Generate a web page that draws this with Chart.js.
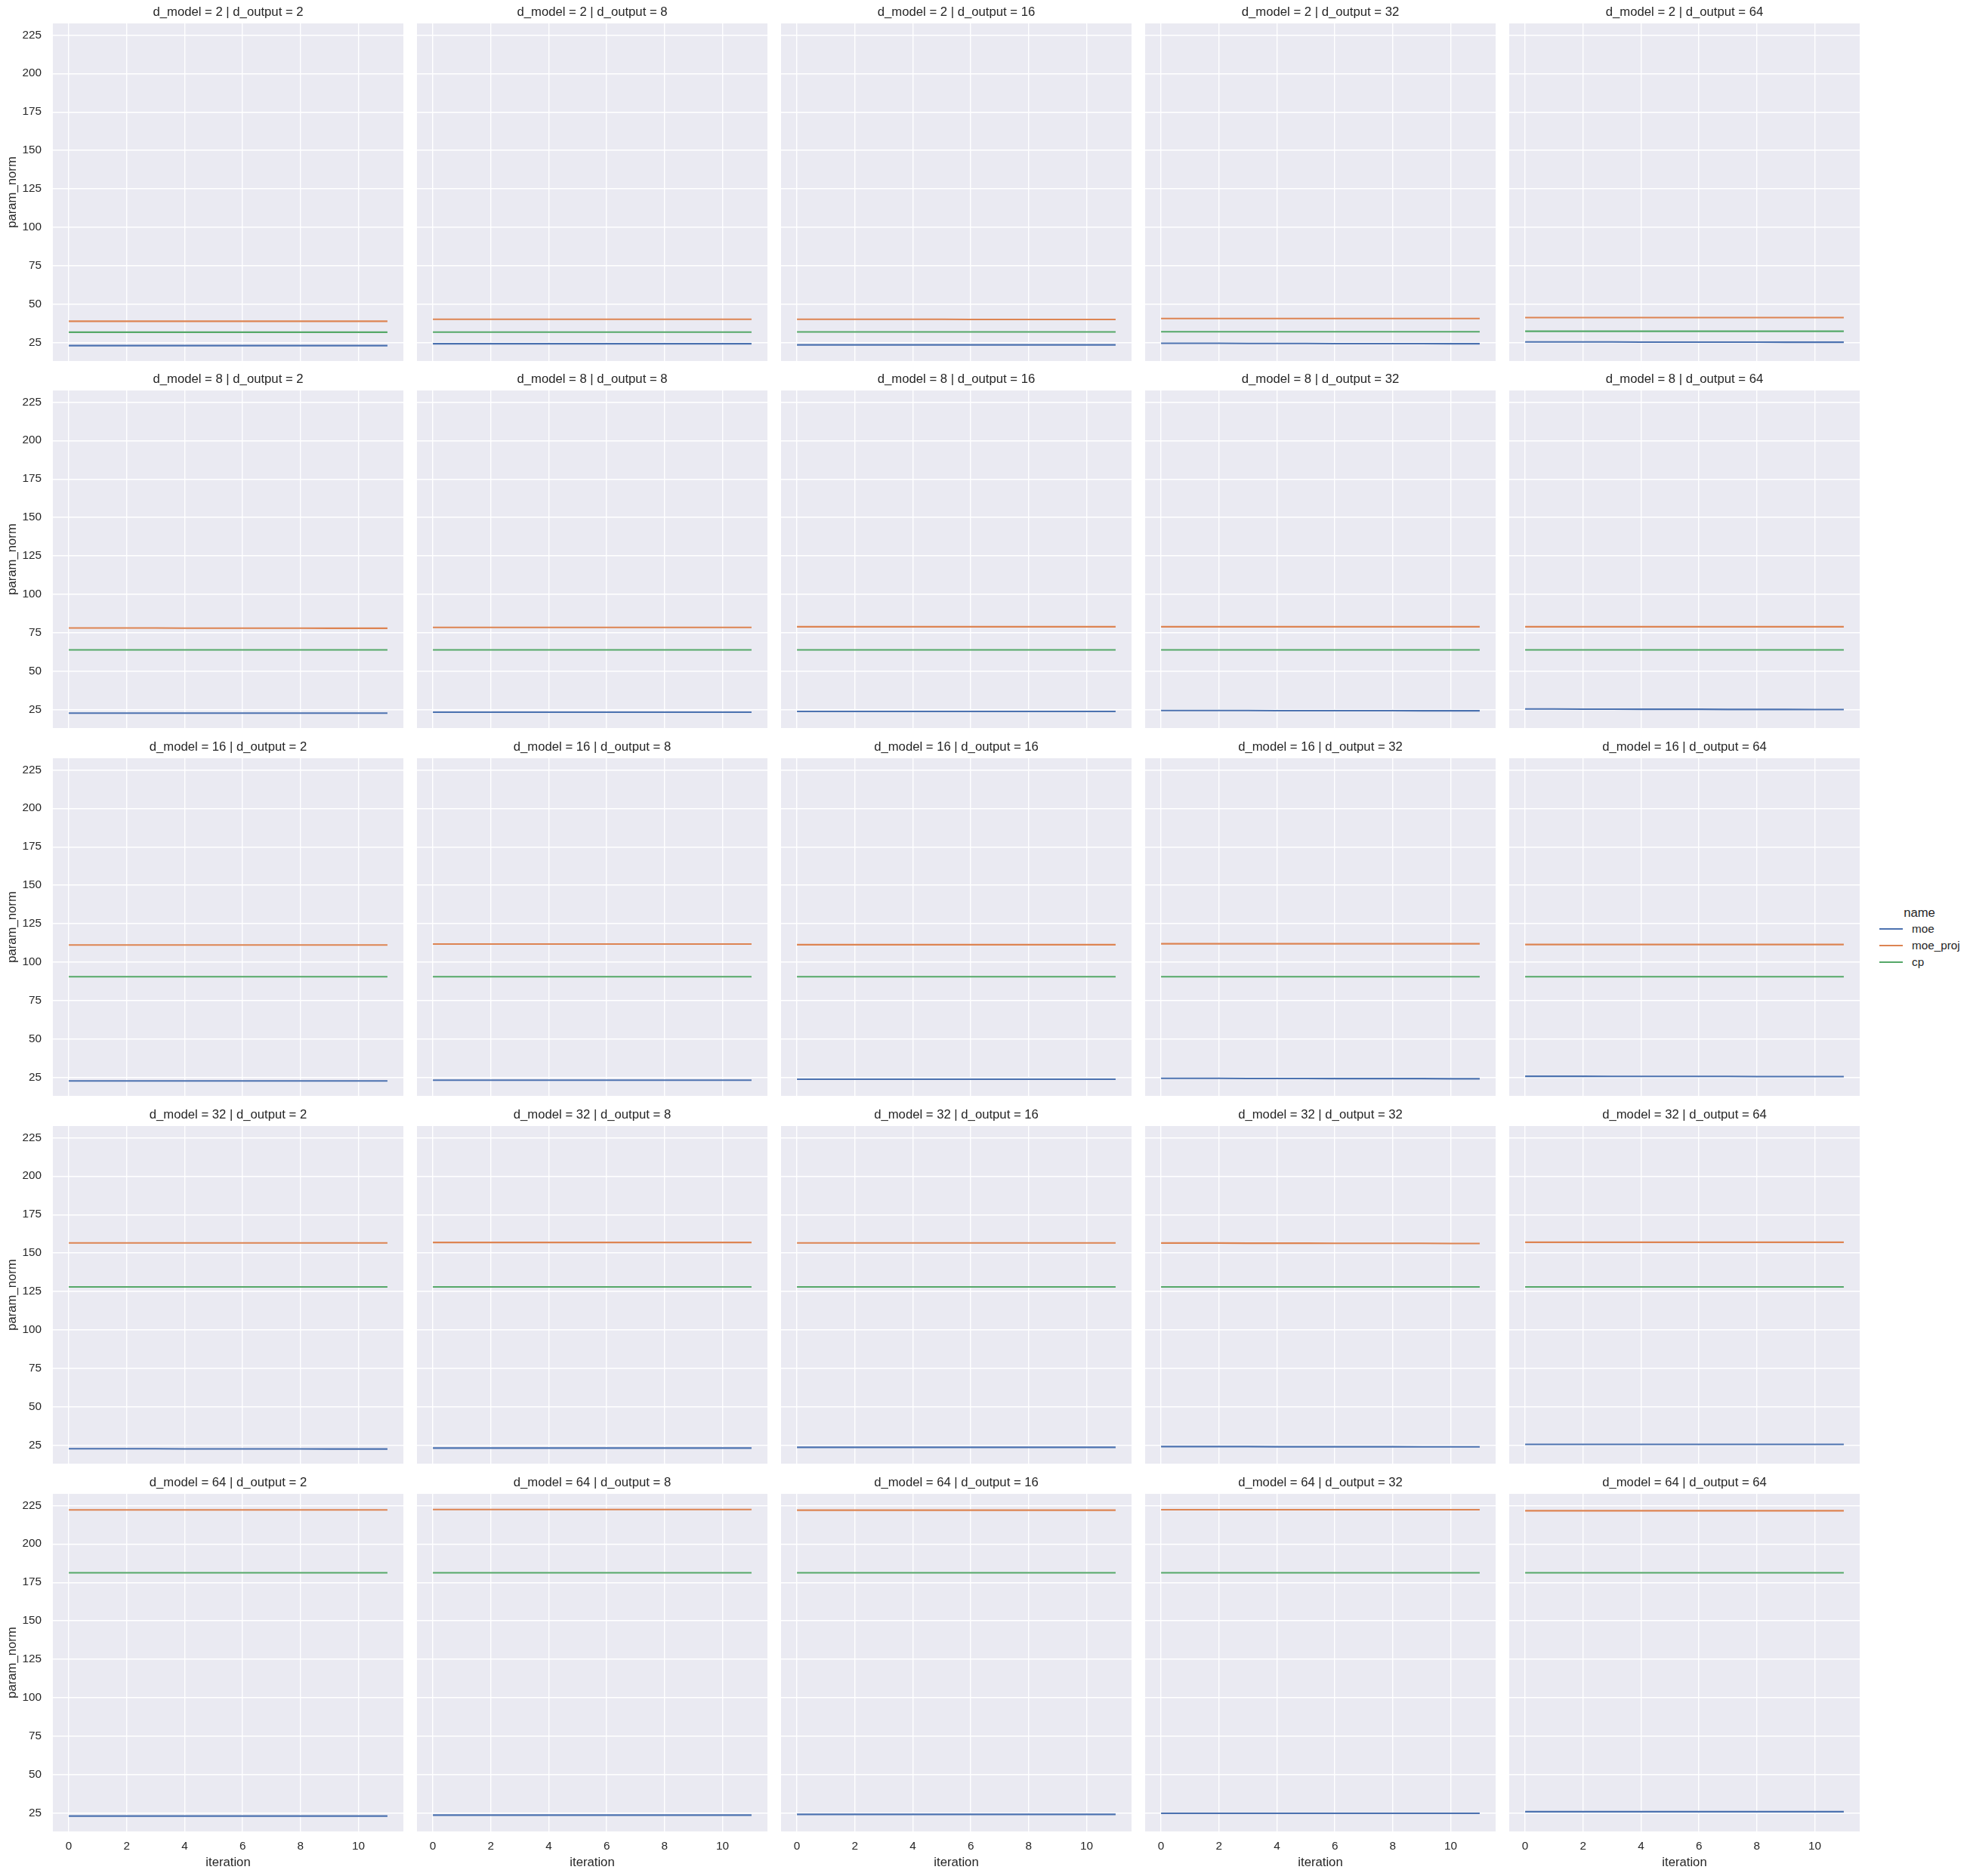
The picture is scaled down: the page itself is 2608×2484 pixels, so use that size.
<!DOCTYPE html>
<html>
<head>
<meta charset="utf-8">
<script src="https://cdn.jsdelivr.net/npm/chart.js@4.4.0/dist/chart.umd.min.js"></script>
<style>
  html, body { margin:0; padding:0; background:#ffffff; width:2608px; height:2484px; overflow:hidden; }
  .cell { position:absolute; }
  .cell canvas { display:block; }
  #legend { position:absolute; left:0; top:0; font-family:"Liberation Sans", Arial, sans-serif; color:#262626; }
  .lg-title { position:absolute; font-size:16.7px; line-height:20px; transform:translate(-50%,-50%); white-space:nowrap; }
  .lg-line { position:absolute; height:2.1px; }
  .lg-text { position:absolute; font-size:15.3px; line-height:18px; transform:translateY(-50%); white-space:nowrap; }
</style>
</head>
<body>
<div id="grid"></div>
<div id="legend"></div>
<script>
// ---------------- data ----------------
const iterations = [0,1,2,3,4,5,6,7,8,9,10,11];
const dModels  = [2, 8, 16, 32, 64];
const dOutputs = [2, 8, 16, 32, 64];
const xTickValues = [0, 2, 4, 6, 8, 10];
const yTickValues = [25, 50, 75, 100, 125, 150, 175, 200, 225];
const seriesNames  = ['moe', 'moe_proj', 'cp'];
const seriesColors = ['#4C72B0', '#DD8452', '#55A868'];

// moe  (rows: d_output = 2, 8, 16, 32, 64)
const moe_dm2 = [
  [23.2,23.2,23.2,23.2,23.2,23.2,23.2,23.2,23.2,23.2,23.2,23.2],
  [24.4,24.4,24.4,24.4,24.4,24.4,24.4,24.4,24.4,24.4,24.4,24.4],
  [23.7,23.7,23.7,23.7,23.7,23.7,23.7,23.7,23.7,23.7,23.7,23.7],
  [24.7,24.7,24.7,24.6,24.6,24.6,24.5,24.5,24.5,24.5,24.4,24.4],
  [25.6,25.6,25.6,25.6,25.5,25.5,25.5,25.5,25.5,25.4,25.4,25.4]
];
const moe_dm8 = [
  [22.9,22.9,22.9,22.9,22.9,22.9,22.9,22.9,22.9,22.9,22.9,22.9],
  [23.5,23.5,23.5,23.5,23.5,23.5,23.5,23.5,23.5,23.5,23.5,23.5],
  [24.0,24.0,24.0,24.0,24.0,24.0,24.0,24.0,24.0,24.0,24.0,24.0],
  [24.6,24.6,24.6,24.6,24.5,24.5,24.5,24.5,24.5,24.4,24.4,24.4],
  [25.6,25.6,25.5,25.5,25.4,25.4,25.4,25.3,25.3,25.3,25.2,25.2]
];
const moe_dm16 = [
  [22.9,22.9,22.9,22.9,22.9,22.9,22.9,22.9,22.9,22.9,22.9,22.9],
  [23.4,23.4,23.4,23.4,23.4,23.4,23.4,23.4,23.4,23.4,23.4,23.4],
  [24.0,24.0,24.0,24.0,24.0,24.0,24.0,24.0,24.0,24.0,24.0,24.0],
  [24.6,24.6,24.6,24.5,24.5,24.5,24.4,24.4,24.4,24.4,24.3,24.3],
  [25.9,25.9,25.9,25.8,25.8,25.8,25.8,25.8,25.7,25.7,25.7,25.7]
];
const moe_dm32 = [
  [22.9,22.9,22.9,22.9,22.8,22.8,22.8,22.8,22.8,22.7,22.7,22.7],
  [23.3,23.3,23.3,23.3,23.3,23.3,23.3,23.3,23.3,23.3,23.3,23.3],
  [23.8,23.8,23.8,23.8,23.8,23.8,23.8,23.8,23.8,23.8,23.8,23.8],
  [24.3,24.3,24.3,24.3,24.2,24.2,24.2,24.2,24.2,24.1,24.1,24.1],
  [25.7,25.7,25.7,25.7,25.7,25.7,25.7,25.7,25.7,25.7,25.7,25.7]
];
const moe_dm64 = [
  [23.2,23.2,23.2,23.2,23.2,23.2,23.2,23.2,23.2,23.2,23.2,23.2],
  [23.8,23.8,23.8,23.8,23.8,23.8,23.8,23.8,23.8,23.8,23.8,23.8],
  [24.3,24.3,24.3,24.3,24.3,24.3,24.3,24.3,24.3,24.3,24.3,24.3],
  [25.0,25.0,25.0,25.0,25.0,25.0,25.0,25.0,25.0,25.0,25.0,25.0],
  [26.0,26.0,26.0,26.0,26.0,26.0,26.0,26.0,26.0,26.0,26.0,26.0]
];

// moe_proj
const moeProj_dm2 = [
  [39.0,39.0,39.0,39.0,39.0,39.0,39.0,39.0,39.0,39.0,39.0,39.0],
  [40.3,40.3,40.3,40.3,40.3,40.3,40.3,40.3,40.3,40.3,40.3,40.3],
  [40.3,40.3,40.3,40.3,40.3,40.3,40.2,40.2,40.2,40.2,40.2,40.2],
  [40.8,40.8,40.8,40.8,40.8,40.8,40.8,40.8,40.8,40.8,40.8,40.8],
  [41.4,41.4,41.4,41.4,41.4,41.4,41.4,41.4,41.4,41.4,41.4,41.4]
];
const moeProj_dm8 = [
  [78.2,78.2,78.2,78.2,78.1,78.1,78.1,78.1,78.1,78.0,78.0,78.0],
  [78.6,78.6,78.6,78.6,78.6,78.6,78.6,78.6,78.6,78.6,78.6,78.6],
  [79.0,79.0,79.0,79.0,79.0,79.0,79.0,79.0,79.0,79.0,79.0,79.0],
  [79.0,79.0,79.0,79.0,79.0,79.0,79.0,79.0,79.0,79.0,79.0,79.0],
  [79.0,79.0,79.0,79.0,79.0,79.0,79.0,79.0,79.0,79.0,79.0,79.0]
];
const moeProj_dm16 = [
  [111.2,111.2,111.2,111.2,111.2,111.2,111.2,111.2,111.2,111.2,111.2,111.2],
  [111.8,111.8,111.8,111.8,111.8,111.8,111.8,111.8,111.8,111.8,111.8,111.8],
  [111.4,111.4,111.4,111.4,111.4,111.4,111.4,111.4,111.4,111.4,111.4,111.4],
  [112.0,112.0,112.0,112.0,112.0,112.0,112.0,112.0,112.0,112.0,112.0,112.0],
  [111.5,111.5,111.5,111.5,111.5,111.5,111.5,111.5,111.5,111.5,111.5,111.5]
];
const moeProj_dm32 = [
  [156.6,156.6,156.6,156.6,156.6,156.6,156.6,156.6,156.6,156.6,156.6,156.6],
  [156.9,156.9,156.9,156.9,156.9,156.9,156.9,156.9,156.9,156.9,156.9,156.9],
  [156.6,156.6,156.6,156.6,156.6,156.6,156.6,156.6,156.6,156.6,156.6,156.6],
  [156.5,156.5,156.5,156.4,156.4,156.4,156.3,156.3,156.3,156.3,156.2,156.2],
  [157.0,157.0,157.0,157.0,157.0,157.0,157.0,157.0,157.0,157.0,157.0,157.0]
];
const moeProj_dm64 = [
  [222.1,222.1,222.1,222.1,222.1,222.1,222.1,222.1,222.1,222.1,222.1,222.1],
  [222.3,222.3,222.3,222.3,222.3,222.3,222.3,222.3,222.3,222.3,222.3,222.3],
  [221.9,221.9,221.9,221.9,221.9,221.9,221.9,221.9,221.9,221.9,221.9,221.9],
  [222.2,222.2,222.2,222.2,222.2,222.2,222.2,222.2,222.2,222.2,222.2,222.2],
  [221.5,221.5,221.5,221.5,221.5,221.5,221.5,221.5,221.5,221.5,221.5,221.5]
];

// cp
const cp_dm2 = [
  [31.9,31.9,31.9,31.9,31.9,31.9,31.9,31.9,31.9,31.9,31.9,31.9],
  [32.0,32.0,32.0,32.0,32.0,32.0,32.0,32.0,32.0,32.0,32.0,32.0],
  [32.1,32.1,32.1,32.1,32.1,32.1,32.1,32.1,32.1,32.1,32.1,32.1],
  [32.2,32.2,32.2,32.2,32.2,32.2,32.2,32.2,32.2,32.2,32.2,32.2],
  [32.5,32.5,32.5,32.5,32.5,32.5,32.5,32.5,32.5,32.5,32.5,32.5]
];
const cp_dm8 = [
  [64.0,64.0,64.0,64.0,64.0,64.0,64.0,64.0,64.0,64.0,64.0,64.0],
  [64.0,64.0,64.0,64.0,64.0,64.0,64.0,64.0,64.0,64.0,64.0,64.0],
  [64.0,64.0,64.0,64.0,64.0,64.0,64.0,64.0,64.0,64.0,64.0,64.0],
  [64.0,64.0,64.0,64.0,64.0,64.0,64.0,64.0,64.0,64.0,64.0,64.0],
  [64.0,64.0,64.0,64.0,64.0,64.0,64.0,64.0,64.0,64.0,64.0,64.0]
];
const cp_dm16 = [
  [90.6,90.6,90.6,90.6,90.6,90.6,90.6,90.6,90.6,90.6,90.6,90.6],
  [90.6,90.6,90.6,90.6,90.6,90.6,90.6,90.6,90.6,90.6,90.6,90.6],
  [90.6,90.6,90.6,90.6,90.6,90.6,90.6,90.6,90.6,90.6,90.6,90.6],
  [90.6,90.6,90.6,90.6,90.6,90.6,90.6,90.6,90.6,90.6,90.6,90.6],
  [90.6,90.6,90.6,90.6,90.6,90.6,90.6,90.6,90.6,90.6,90.6,90.6]
];
const cp_dm32 = [
  [128.0,128.0,128.0,128.0,128.0,128.0,128.0,128.0,128.0,128.0,128.0,128.0],
  [128.0,128.0,128.0,128.0,128.0,128.0,128.0,128.0,128.0,128.0,128.0,128.0],
  [128.0,128.0,128.0,128.0,128.0,128.0,128.0,128.0,128.0,128.0,128.0,128.0],
  [128.0,128.0,128.0,128.0,128.0,128.0,128.0,128.0,128.0,128.0,128.0,128.0],
  [128.0,128.0,128.0,128.0,128.0,128.0,128.0,128.0,128.0,128.0,128.0,128.0]
];
const cp_dm64 = [
  [181.2,181.2,181.2,181.2,181.2,181.2,181.2,181.2,181.2,181.2,181.2,181.2],
  [181.2,181.2,181.2,181.2,181.2,181.2,181.2,181.2,181.2,181.2,181.2,181.2],
  [181.2,181.2,181.2,181.2,181.2,181.2,181.2,181.2,181.2,181.2,181.2,181.2],
  [181.2,181.2,181.2,181.2,181.2,181.2,181.2,181.2,181.2,181.2,181.2,181.2],
  [181.2,181.2,181.2,181.2,181.2,181.2,181.2,181.2,181.2,181.2,181.2,181.2]
];

const seriesByModel = [
  [moe_dm2,  moeProj_dm2,  cp_dm2],
  [moe_dm8,  moeProj_dm8,  cp_dm8],
  [moe_dm16, moeProj_dm16, cp_dm16],
  [moe_dm32, moeProj_dm32, cp_dm32],
  [moe_dm64, moeProj_dm64, cp_dm64]
];

// ---------------- layout / style ----------------
const FONT = '"Liberation Sans", Arial, sans-serif';
const TXT = '#262626';
const COL_X = [70, 552, 1034, 1516, 1998];
const ROW_Y = [31, 517, 1004, 1491, 1978];
const PW = 464, PH = 447;
const TOP_PAD = 31, YAX_W = 70, XAX_H = 58;
const X_MIN = -0.55, X_MAX = 11.55, Y_MIN = 13.2, Y_MAX = 232.5;

const bgPlugin = {
  id: 'bg',
  beforeDraw(chart) {
    const a = chart.chartArea, ctx = chart.ctx;
    ctx.save();
    ctx.fillStyle = '#EAEAF2';
    ctx.fillRect(a.left, a.top, a.right - a.left, a.bottom - a.top);
    ctx.restore();
  }
};
const facetTitlePlugin = {
  id: 'facetTitle',
  afterDraw(chart, args, opts) {
    const a = chart.chartArea, ctx = chart.ctx;
    ctx.save();
    ctx.font = '16.7px ' + FONT;
    ctx.fillStyle = TXT;
    ctx.textAlign = 'center';
    ctx.textBaseline = 'middle';
    ctx.fillText(opts.text, (a.left + a.right) / 2, a.top - 14.5);
    ctx.restore();
  }
};

const gridEl = document.getElementById('grid');
for (let r = 0; r < dModels.length; r++) {
  for (let c = 0; c < dOutputs.length; c++) {
    const leftW = c === 0 ? YAX_W : 0;
    const botH = r === dModels.length - 1 ? XAX_H : 0;
    const w = leftW + PW, h = TOP_PAD + PH + botH;
    const cell = document.createElement('div');
    cell.className = 'cell';
    cell.style.left = (COL_X[c] - leftW) + 'px';
    cell.style.top = (ROW_Y[r] - TOP_PAD) + 'px';
    cell.style.width = w + 'px';
    cell.style.height = h + 'px';
    const cv = document.createElement('canvas');
    cv.width = w; cv.height = h;
    cv.style.width = w + 'px'; cv.style.height = h + 'px';
    cell.appendChild(cv);
    gridEl.appendChild(cell);

    const showY = c === 0, showX = r === dModels.length - 1;
    const datasets = seriesNames.map((name, si) => ({
      label: name,
      data: iterations.map((it, i) => ({ x: it, y: seriesByModel[r][si][c][i] })),
      borderColor: seriesColors[si],
      backgroundColor: seriesColors[si],
      borderWidth: 2.1,
      pointRadius: 0,
      tension: 0,
      fill: false
    }));

    new Chart(cv, {
      type: 'line',
      data: { datasets },
      options: {
        responsive: false,
        animation: false,
        devicePixelRatio: 1,
        events: [],
        layout: { padding: { top: TOP_PAD, left: 0, right: 0, bottom: 0 } },
        plugins: {
          legend: { display: false },
          tooltip: { enabled: false },
          title: { display: false },
          facetTitle: { text: 'd_model = ' + dModels[r] + ' | d_output = ' + dOutputs[c] }
        },
        scales: {
          x: {
            type: 'linear',
            min: X_MIN, max: X_MAX,
            afterBuildTicks: s => { s.ticks = xTickValues.map(v => ({ value: v })); },
            afterFit: s => { s.height = botH; s.paddingLeft = 0; s.paddingRight = 0; s.paddingTop = 0; s.paddingBottom = 0; },
            grid: { color: '#ffffff', lineWidth: 1.4, drawTicks: false },
            border: { display: false },
            ticks: { display: showX, padding: 11, color: TXT, font: { family: FONT, size: 15.3 }, maxRotation: 0, autoSkip: false },
            title: { display: showX, text: 'iteration', color: TXT, font: { family: FONT, size: 16.7 }, padding: { top: 0, bottom: 7 } }
          },
          y: {
            type: 'linear',
            min: Y_MIN, max: Y_MAX,
            afterBuildTicks: s => { s.ticks = yTickValues.map(v => ({ value: v })); },
            afterFit: s => { s.width = leftW; s.paddingLeft = 0; s.paddingRight = 0; s.paddingTop = 0; s.paddingBottom = 0; },
            grid: { color: '#ffffff', lineWidth: 1.4, drawTicks: false },
            border: { display: false },
            ticks: { display: showY, padding: 15, color: TXT, font: { family: FONT, size: 15.3 }, autoSkip: false },
            title: { display: showY, text: 'param_norm', color: TXT, font: { family: FONT, size: 16.7 }, padding: { top: 6, bottom: 0 } }
          }
        }
      },
      plugins: [bgPlugin, facetTitlePlugin]
    });
  }
}

// ---------------- legend ----------------
const lg = document.getElementById('legend');
const t = document.createElement('div');
t.className = 'lg-title'; t.textContent = 'name';
t.style.left = '2541px'; t.style.top = '1209px';
lg.appendChild(t);
const LG_Y = [1230, 1252, 1274];
seriesNames.forEach((name, i) => {
  const ln = document.createElement('div');
  ln.className = 'lg-line';
  ln.style.left = '2488px'; ln.style.width = '31px';
  ln.style.top = (LG_Y[i] - 1) + 'px';
  ln.style.background = seriesColors[i];
  lg.appendChild(ln);
  const tx = document.createElement('div');
  tx.className = 'lg-text'; tx.textContent = name;
  tx.style.left = '2531px'; tx.style.top = LG_Y[i] + 'px';
  lg.appendChild(tx);
});
</script>
</body>
</html>
